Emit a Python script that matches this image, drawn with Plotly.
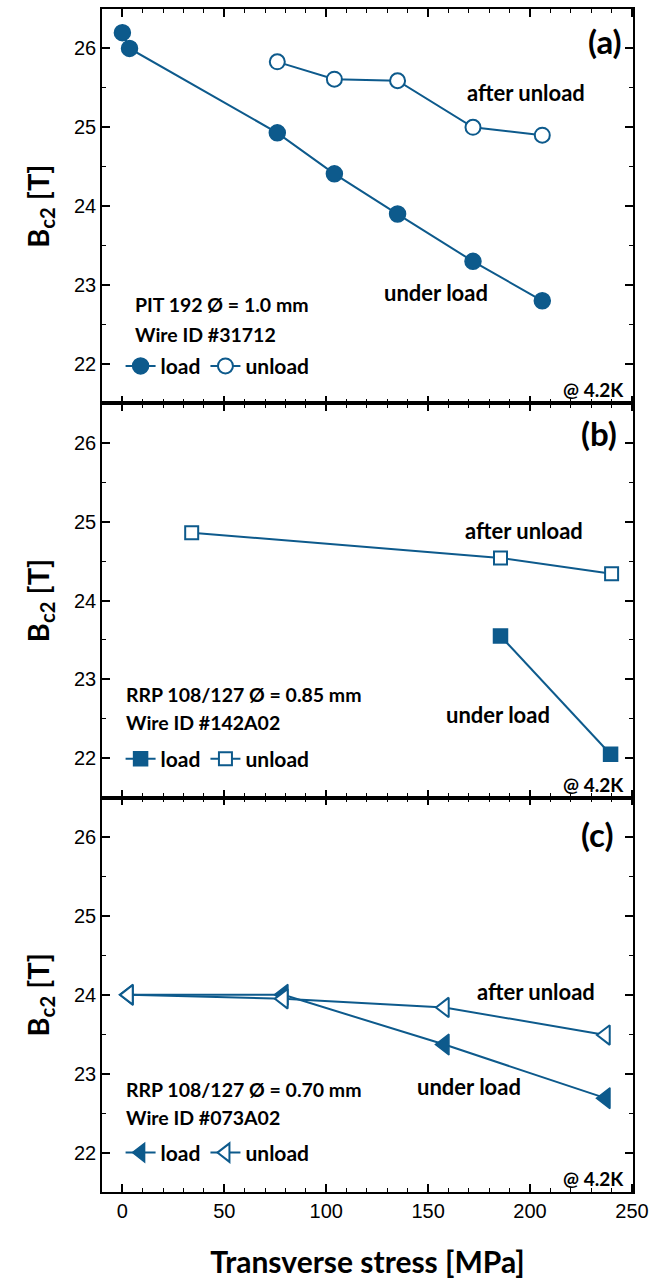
import plotly.graph_objects as go

# ---------------- data ----------------
# Panel (a) PIT 192
a_load_x = [0, 3.5, 76, 104, 135, 172, 206]
a_load_y = [26.2, 26.0, 24.93, 24.41, 23.9, 23.3, 22.8]
a_unload_x = [76, 104, 135, 172, 206]
a_unload_y = [25.83, 25.61, 25.59, 25.0, 24.9]

# Panel (b) RRP 0.85 mm
b_load_x = [185.5, 239.5]
b_load_y = [23.55, 22.05]
b_unload_x = [34, 185.5, 240]
b_unload_y = [24.86, 24.54, 24.34]

# Panel (c) RRP 0.70 mm
c_load_x = [3, 79, 158, 237]
c_load_y = [24.0, 24.0, 23.37, 22.69]
c_unload_x = [3, 79, 158, 237]
c_unload_y = [24.0, 23.95, 23.84, 23.49]

x_ticks = [0, 50, 100, 150, 200, 250]
y_ticks = [22, 23, 24, 25, 26]

panel_labels = ["(a)", "(b)", "(c)"]
wire_names = ["PIT 192 Ø = 1.0 mm", "RRP 108/127 Ø = 0.85 mm", "RRP 108/127 Ø = 0.70 mm"]
wire_ids = ["Wire ID #31712", "Wire ID #142A02", "Wire ID #073A02"]

# ---------------- style ----------------
BLUE = "#0d5a8c"
TXT_FONT = "Lato"
TICK_FONT = "Liberation Sans, Arial"

fig = go.Figure()

panels = [
    (a_load_x, a_load_y, a_unload_x, a_unload_y, "circle", 16, ""),
    (b_load_x, b_load_y, b_unload_x, b_unload_y, "square", 14, "2"),
    (c_load_x, c_load_y, c_unload_x, c_unload_y, "triangle-left", 18, "3"),
]

for i, (lx, ly, ux, uy, sym, msz, suf) in enumerate(panels):
    xa = "x" + suf
    ya = "y" + suf
    leg = "legend" + suf
    fig.add_trace(go.Scatter(
        x=lx, y=ly, mode="lines+markers", name="load",
        line=dict(color=BLUE, width=2),
        marker=dict(symbol=sym, size=msz, color=BLUE, line=dict(color=BLUE, width=1.5)),
        xaxis=xa, yaxis=ya, legend=leg, cliponaxis=False,
    ))
    fig.add_trace(go.Scatter(
        x=ux, y=uy, mode="lines+markers", name="unload",
        line=dict(color=BLUE, width=2),
        marker=dict(symbol=sym, size=msz - 1, color="white", line=dict(color=BLUE, width=2)),
        xaxis=xa, yaxis=ya, legend=leg, cliponaxis=False,
    ))

# ---------------- layout ----------------
L, R, T, B = 102, 18, 7, 90
W, H = 656, 1282
domains = [[2 / 3, 1.0], [1 / 3, 2 / 3], [0.0, 1 / 3]]

layout = dict(
    width=W, height=H,
    margin=dict(l=L, r=R, t=T, b=B, pad=0),
    paper_bgcolor="white", plot_bgcolor="white",
    showlegend=True,
)

common_x = dict(
    range=[-10, 250.5], tickvals=x_ticks, showgrid=False, zeroline=False,
    showline=True, linecolor="black", linewidth=1.5, mirror="allticks",
    ticks="inside", ticklen=8, tickwidth=1.5, tickcolor="black",
    minor=dict(dtick=10, ticks="inside", ticklen=4.5, tickwidth=1.2, tickcolor="black"),
    tickfont=dict(family=TICK_FONT, size=20, color="black"),
)
common_y = dict(
    range=[21.5, 26.5], tickvals=y_ticks, showgrid=False, zeroline=False,
    showline=True, linecolor="black", linewidth=1.5, mirror="allticks",
    ticks="inside", ticklen=8, tickwidth=1.5, tickcolor="black",
    minor=dict(dtick=0.5, ticks="inside", ticklen=4.5, tickwidth=1.2, tickcolor="black"),
    tickfont=dict(family=TICK_FONT, size=20, color="black"),
    title=dict(text="B<sub>c2</sub> [T]", standoff=16,
               font=dict(family=TXT_FONT, size=29, color="black", weight="bold")),
)

for i, suf in enumerate(["", "2", "3"]):
    xk = "xaxis" + suf
    yk = "yaxis" + suf
    xd = dict(common_x)
    xd["anchor"] = "y" + suf
    xd["domain"] = [0, 1]
    if i < 2:
        xd["showticklabels"] = False
        xd["matches"] = "x3"
    else:
        xd["title"] = dict(text="Transverse stress [MPa]", standoff=31,
                           font=dict(family=TXT_FONT, size=30, color="black", weight="bold"))
    yd = dict(common_y)
    yd["anchor"] = "x" + suf
    yd["domain"] = domains[i]
    layout[xk] = xd
    layout[yk] = yd

# legends
legend_y = [0.698, 0.366, 0.033]
for i, suf in enumerate(["", "2", "3"]):
    layout["legend" + suf] = dict(
        x=0.035, y=legend_y[i], xanchor="left", yanchor="middle",
        orientation="h", bgcolor="rgba(0,0,0,0)",
        font=dict(family=TXT_FONT, size=21, color="black", weight="bold"),
        itemwidth=30, tracegroupgap=0,
    )

fig.update_layout(**layout)

# ---------------- annotations ----------------
ann = []
label_pos = [(237, 26.1), (234, 26.12), (233, 26.04)]
after_pos = [(198, 25.44), (197, 24.89), (203, 24.04)]
under_pos = [(154, 22.9), (184.5, 22.56), (170, 22.84)]
name_pos = [(5, 22.75), (1, 22.81), (1, 22.80)]
id_pos = [(5, 22.37), (1, 22.45), (1, 22.44)]

for i, suf in enumerate(["", "2", "3"]):
    xr, yr = "x" + suf, "y" + suf
    ann.append(dict(x=label_pos[i][0], y=label_pos[i][1], xref=xr, yref=yr,
                    text=panel_labels[i], showarrow=False, xanchor="center", yanchor="middle",
                    font=dict(family=TXT_FONT, size=33, color="black", weight="bold")))
    ann.append(dict(x=after_pos[i][0], y=after_pos[i][1], xref=xr, yref=yr,
                    text="after unload", showarrow=False, xanchor="center", yanchor="middle",
                    font=dict(family=TXT_FONT, size=22, color="black", weight="bold")))
    ann.append(dict(x=under_pos[i][0], y=under_pos[i][1], xref=xr, yref=yr,
                    text="under load", showarrow=False, xanchor="center", yanchor="middle",
                    font=dict(family=TXT_FONT, size=22, color="black", weight="bold")))
    ann.append(dict(x=name_pos[i][0], y=name_pos[i][1], xref=xr, yref=yr,
                    text=wire_names[i], showarrow=False, xanchor="left", yanchor="middle",
                    font=dict(family=TXT_FONT, size=19.5, color="black", weight="bold")))
    ann.append(dict(x=id_pos[i][0], y=id_pos[i][1], xref=xr, yref=yr,
                    text=wire_ids[i], showarrow=False, xanchor="left", yanchor="middle",
                    font=dict(family=TXT_FONT, size=19.5, color="black", weight="bold")))
    ann.append(dict(x=247, y=21.67, xref=xr, yref=yr,
                    text="@ 4.2K", showarrow=False, xanchor="right", yanchor="middle",
                    font=dict(family=TXT_FONT, size=19, color="black", weight="bold")))

fig.update_layout(annotations=ann)

fig.write_html("out.html")
